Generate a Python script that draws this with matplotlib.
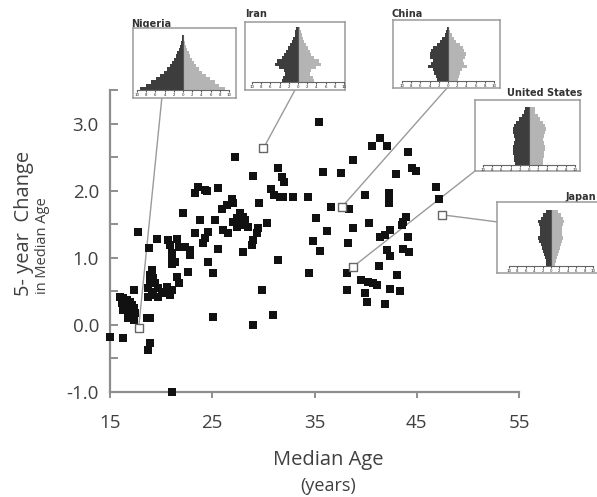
import matplotlib
matplotlib.use("Agg")
import matplotlib.pyplot as plt
from matplotlib.patches import ConnectionPatch
import numpy as np

W, H = 597, 497

# ---------------- data ----------------
median_age = [15.0, 16.3, 18.9, 18.7,
              17.7, 18.8, 19.6, 20.7, 21.6, 20.9, 21.7,
              22.1, 23.8, 23.3, 24.6, 22.3, 22.8, 22.8,
              21.1, 21.1, 21.4, 21.1, 22.6, 24.6, 25.1,
              19.1, 18.9, 19.2, 18.9, 19.4, 18.7, 19.1,
              18.7, 19.2, 19.7, 20.1, 19.7, 20.4, 20.6,
              21.1, 20.9, 21.6, 21.7,
              17.3, 16.0, 16.3, 16.7, 17.0, 16.2, 16.5,
              17.2, 17.3, 16.3, 17.0, 17.4, 16.8, 17.3,
              18.6, 18.9,
              25.1, 29.0, 30.9, 21.1,
              27.2, 29.0, 31.4, 31.8, 32.0, 35.8,
              23.6, 24.3, 23.3, 24.5, 25.6,
              30.7, 31.0, 31.6, 31.9, 32.9, 34.4,
              26.9, 27.0, 26.4, 26.0, 29.6,
              25.3, 27.7, 28.0, 27.4, 27.0, 27.7, 28.2, 28.5, 27.4, 28.2,
              30.4, 29.5, 29.4, 29.0, 26.1, 26.5,
              24.3, 24.1, 25.6, 28.9, 28.0, 31.4,
              35.1, 36.6, 36.2, 34.9, 35.5, 34.5, 29.9,
              35.4, 37.6,
              41.4, 40.6, 42.1, 38.8, 44.1, 43.0, 44.5, 44.9, 46.9, 47.2,
              38.4, 39.9, 42.3, 42.3, 42.3,
              38.8, 40.3, 43.9, 43.7, 43.6, 41.4, 41.9, 42.4, 44.1,
              38.3, 42.1, 42.4, 43.7, 44.2, 41.3, 38.2, 43.1,
              39.5, 40.2, 40.7, 41.1, 38.2, 39.9, 40.1, 42.4, 43.4, 41.9]

change_5yr = [-0.18, -0.19, -0.27, -0.37,
              1.39, 1.15, 1.28, 1.27, 1.28, 1.19, 1.16,
              1.67, 1.57, 1.37, 1.39, 1.16, 1.12, 1.04,
              1.07, 1.00, 0.93, 0.90, 0.79, 0.94, 0.78,
              0.82, 0.75, 0.70, 0.63, 0.63, 0.55, 0.49,
              0.42, 0.45, 0.55, 0.49, 0.42, 0.48, 0.57,
              0.52, 0.45, 0.72, 0.63,
              0.52, 0.42, 0.40, 0.37, 0.34, 0.33, 0.30,
              0.30, 0.25, 0.22, 0.19, 0.18, 0.10, 0.07,
              0.10, 0.10,
              0.12, 0.00, 0.15, -1.00,
              2.50, 2.22, 2.34, 2.21, 2.13, 2.28,
              2.06, 2.01, 1.97, 1.99, 2.04,
              2.03, 1.94, 1.91, 1.90, 1.91, 1.91,
              1.88, 1.82, 1.79, 1.72, 1.81,
              1.57, 1.67, 1.61, 1.60, 1.54, 1.49, 1.52, 1.46, 1.46, 1.57,
              1.52, 1.45, 1.37, 1.27, 1.42, 1.37,
              1.30, 1.22, 1.13, 1.19, 1.09, 0.96,
              1.60, 1.75, 1.40, 1.25, 1.10, 0.78, 0.52,
              3.03, 2.27,
              2.79, 2.66, 2.66, 2.46, 2.57, 2.25, 2.34, 2.30, 2.06, 1.88,
              1.72, 1.93, 1.96, 1.88, 1.81,
              1.45, 1.52, 1.61, 1.54, 1.49, 1.31, 1.34, 1.42, 1.31,
              1.22, 1.12, 1.03, 1.13, 1.09, 0.88, 0.78, 0.75,
              0.67, 0.64, 0.63, 0.60, 0.52, 0.48, 0.34, 0.54, 0.51, 0.31]

countries = ["Nigeria", "Iran", "China", "United States", "Japan"]
country_age = [17.8, 30.0, 37.7, 38.8, 47.5]
country_change = [-0.05, 2.63, 1.76, 0.87, 1.64]

x_ticks = [15, 25, 35, 45, 55]
y_ticks = [-1.0, 0.0, 1.0, 2.0, 3.0]
y_tick_labels = ["-1.0", "0.0", "1.0", "2.0", "3.0"]

# population pyramids: percent of population per 5-year age group (0-4 ... 80+)
nigeria_male = [9.3, 8.0, 7.0, 5.9, 5.0, 4.1, 3.5, 2.8, 2.4, 2.0, 1.5, 1.2, 0.9, 0.65, 0.45, 0.26, 0.13]
nigeria_female = [9.1, 7.9, 6.9, 5.9, 5.0, 4.2, 3.5, 2.9, 2.4, 2.0, 1.6, 1.2, 0.9, 0.7, 0.5, 0.3, 0.15]
iran_male = [3.5, 3.3, 2.8, 3.0, 4.1, 5.0, 4.6, 3.5, 3.0, 2.6, 2.2, 1.7, 1.3, 1.0, 0.75, 0.55, 0.35]
iran_female = [3.4, 3.2, 2.7, 2.9, 4.0, 4.9, 4.5, 3.4, 2.9, 2.5, 2.1, 1.7, 1.3, 1.0, 0.8, 0.6, 0.4]
china_male = [2.4, 2.6, 3.0, 3.2, 4.3, 3.6, 3.3, 3.9, 4.0, 3.6, 3.3, 2.5, 1.8, 1.3, 0.7, 0.4, 0.2]
china_female = [2.1, 2.3, 2.7, 3.0, 4.1, 3.4, 3.2, 3.8, 3.9, 3.5, 3.2, 2.5, 1.8, 1.4, 0.8, 0.5, 0.3]
us_male = [3.1, 3.2, 3.3, 3.4, 3.5, 3.4, 3.3, 3.1, 3.2, 3.4, 3.5, 3.2, 2.8, 2.2, 1.6, 1.1, 0.8]
us_female = [3.0, 3.1, 3.2, 3.3, 3.4, 3.4, 3.3, 3.1, 3.2, 3.5, 3.6, 3.4, 3.0, 2.4, 1.9, 1.4, 1.2]
japan_male = [1.1, 1.3, 1.5, 1.7, 2.0, 2.2, 2.4, 2.8, 3.0, 2.6, 2.6, 2.6, 2.8, 3.0, 2.5, 2.0, 1.1]
japan_female = [1.0, 1.2, 1.4, 1.6, 1.9, 2.1, 2.3, 2.7, 2.9, 2.6, 2.6, 2.7, 2.9, 3.1, 2.8, 2.4, 1.6]
age_groups = list(range(17))
pyramid_ticks = [-10, -8, -6, -4, -2, 0, 2, 4, 6, 8, 10]

pyr_male = [nigeria_male, iran_male, china_male, us_male, japan_male]
pyr_female = [nigeria_female, iran_female, china_female, us_female, japan_female]

# ---------------- layout helpers ----------------
def px_box(l, t, r, b):
    return [l / W, 1 - b / H, (r - l) / W, (b - t) / H]

fig = plt.figure(figsize=(W / 100, H / 100), dpi=100)
fig.patch.set_facecolor("white")

FONT = "Open Sans"
axis_grey = "#8e8e8e"
text_grey = "#404040"

ax = fig.add_axes(px_box(110, 90, 519, 392))
ax.set_xlim(15, 55)
ax.set_ylim(-1.0, 3.5)
for s in ["top", "right"]:
    ax.spines[s].set_visible(False)
for s in ["left", "bottom"]:
    ax.spines[s].set_color(axis_grey)
    ax.spines[s].set_linewidth(1.6)

ax.set_xticks(x_ticks)
ax.set_xticklabels([str(v) for v in x_ticks])
ax.set_yticks(y_ticks)
ax.set_yticklabels(y_tick_labels)
ax.set_yticks([-0.5, 0.5, 1.5, 2.5, 3.5], minor=True)
ax.tick_params(axis="y", which="both", direction="in", length=6, width=1.4,
               color=axis_grey, pad=8, labelsize=13.5, labelcolor=text_grey)
ax.tick_params(axis="x", which="both", direction="out", length=4.5, width=1.4,
               color=axis_grey, pad=11, labelsize=13.5, labelcolor=text_grey)
for lab in ax.get_xticklabels() + ax.get_yticklabels():
    lab.set_family(FONT)

ax.scatter(median_age, change_5yr, marker="s", s=32, c="#111111",
           linewidths=0, zorder=3, clip_on=False)
ax.scatter(country_age, country_change, marker="s", s=38, facecolors="white",
           edgecolors="#666666", linewidths=1.0, zorder=4, clip_on=False)

# axis labels
fig.text(328 / W, 1 - 460 / H, "Median Age", ha="center", va="center",
         fontsize=14.5, color=text_grey, family=FONT)
fig.text(328 / W, 1 - 486 / H, "(years)", ha="center", va="center",
         fontsize=13, color=text_grey, family=FONT)
fig.text(24 / W, 1 - 296 / H, "5- year  Change", ha="center", va="bottom",
         rotation=90, fontsize=14.5, color=text_grey, family=FONT)
fig.text(42 / W, 1 - 294 / H, "in Median Age", ha="center", va="bottom",
         rotation=90, fontsize=10.5, color=text_grey, family=FONT)

# ---------------- insets ----------------
boxes = [(133, 28, 236, 98), (245, 22, 345, 90), (393, 20, 500, 88),
         (475, 100, 580, 171), (497, 202, 607, 273)]
pyr_geom = [(183, 90, 35, 46), (298, 82, 27, 46), (448, 81, 27, 46),
            (529, 165, 107, 46), (551, 266, 210, 42)]
anchor = [(0.28, 0.0), (0.5, 0.0), (0.505, 0.0), (0.0, 0.0), (0.0, 0.72)]
titles = [(131, 27, "left"), (245, 17, "left"), (392, 17, "left"),
          (582, 96, "right"), (596, 200, "right")]

for i, name in enumerate(countries):
    l, t, r, b = boxes[i]
    bax = fig.add_axes(px_box(l, t, r, b))
    bax.set_xticks([])
    bax.set_yticks([])
    bax.set_facecolor("white")
    for s in bax.spines.values():
        s.set_color("#9a9a9a")
        s.set_linewidth(1.1)
    bax.set_zorder(5)

    cx, base, apex, hw = pyr_geom[i]
    pax = fig.add_axes(px_box(cx - hw, apex, cx + hw, base))
    pax.set_zorder(6)
    pax.patch.set_alpha(0)
    pax.barh(age_groups, [-v for v in pyr_male[i]], height=1.0, align="edge",
             color="#3d3d3d", linewidth=0)
    pax.barh(age_groups, pyr_female[i], height=1.0, align="edge",
             color="#b4b4b4", linewidth=0)
    pax.axvline(0, color="#555555", lw=0.8)
    pax.set_xlim(-10, 10)
    pax.set_ylim(0, 17)
    for s in ["top", "right", "left"]:
        pax.spines[s].set_visible(False)
    pax.spines["bottom"].set_color("#666666")
    pax.spines["bottom"].set_linewidth(0.8)
    pax.set_yticks([])
    pax.set_xticks(pyramid_ticks)
    pax.set_xticklabels([str(abs(v)) for v in pyramid_ticks])
    pax.tick_params(axis="x", direction="out", length=1.5, width=0.8,
                    color="#555555", pad=0.5, labelsize=2.8, labelcolor="#222222")

    tx, ty, ha = titles[i]
    fig.text(tx / W, 1 - ty / H, name, ha=ha, va="baseline", fontsize=7,
             fontweight="bold", color="#333333", family="DejaVu Sans")

    con = ConnectionPatch(xyA=(country_age[i], country_change[i]), coordsA=ax.transData,
                          xyB=anchor[i], coordsB=bax.transAxes,
                          color="#9a9a9a", lw=1.0, zorder=2)
    con.set_clip_on(False)
    ax.add_artist(con)

fig.savefig("out.png", dpi=100)
